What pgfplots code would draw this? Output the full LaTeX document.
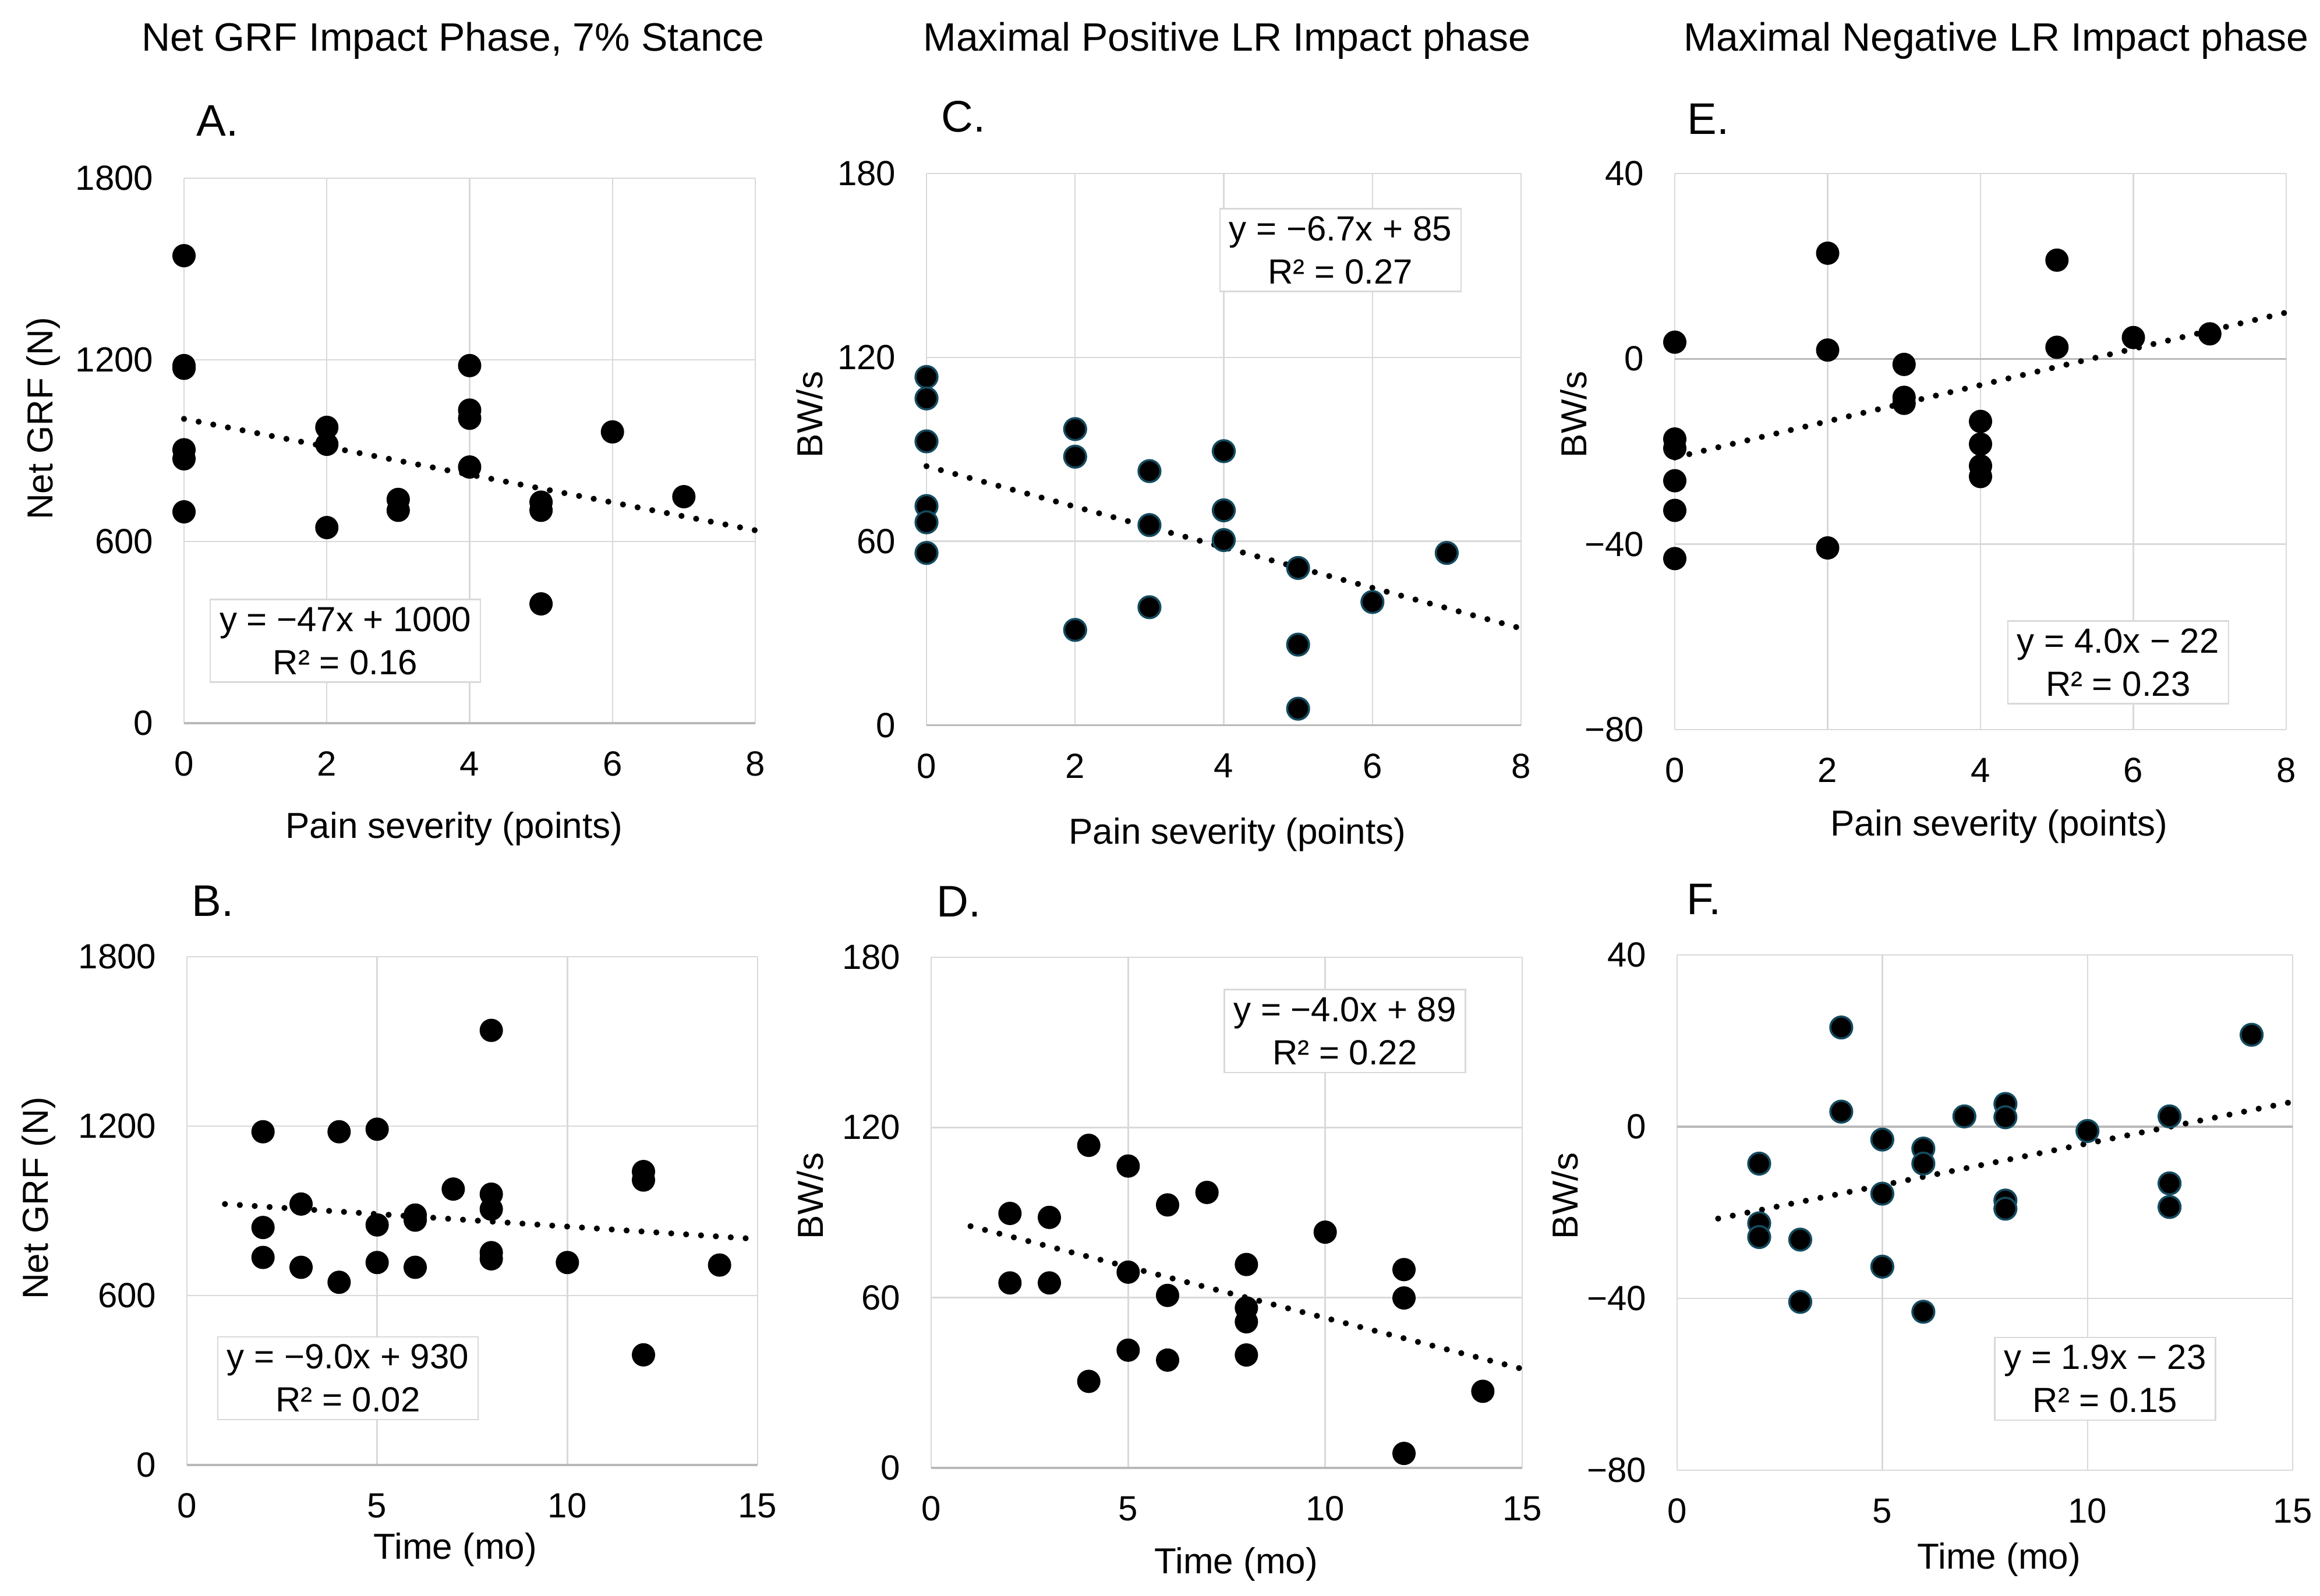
\documentclass[border=0pt]{standalone}
\usepackage{fontspec}
\setmainfont{Liberation Sans}
\usepackage{pgfplots}
\pgfplotsset{compat=1.18}
\definecolor{gridgray}{RGB}{217,217,217}
\definecolor{axgray}{RGB}{185,185,185}
\definecolor{edgeblue}{RGB}{20,75,95}
\pgfplotsset{
  panel/.style={
    scale only axis, clip=false, anchor=south west,
    axis line style={draw=none},
    grid=major, major grid style={gridgray, line width=0.6pt},
    major tick length=0pt,
    tick label style={font=\fontsize{15}{18}\selectfont, inner sep=0pt},
    xticklabel style={anchor=north, yshift=-12pt},
    yticklabel style={anchor=east, xshift=-13pt},
  },
  painx/.style={xmin=0, xmax=8, xtick={0,2,4,6,8}, xticklabels={0,2,4,6,8}},
  timex/.style={xmin=0, xmax=15, xtick={0,5,10,15}, xticklabels={0,5,10,15}},
  dots/.style={only marks, mark=*, mark size=4.7pt, mark options={fill=black, draw=black, line width=0.6pt}},
  dotsb/.style={only marks, mark=*, mark size=4.7pt, mark options={fill=black, draw=edgeblue, line width=0.9pt}},
  trend/.style={no marks, black, line width=2.6pt, line cap=round, dash pattern=on 0pt off 6.4pt},
  zline/.style={no marks, axgray, line width=0.8pt},
}
\tikzset{eqbox/.style={draw=gridgray, fill=white, line width=0.6pt, align=center, inner xsep=4pt, inner ysep=3.2pt, font=\fontsize{15}{18.5}\selectfont}}
\newcommand{\ttl}{\fontsize{17}{20}\selectfont}
\newcommand{\lett}{\fontsize{19}{22}\selectfont}
\newcommand{\lab}{\fontsize{15.5}{18}\selectfont}
\begin{document}
\begin{tikzpicture}
\path[use as bounding box] (0,0) rectangle (996pt,685.25pt);

% ---------- A ----------
\begin{axis}[panel, painx, at={(79pt,374.75pt)}, width=245.25pt, height=234pt,
  ymin=0, ymax=1800, ytick={0,600,1200,1800}, yticklabels={0,600,1200,1800}]
\addplot[zline] coordinates {(0,0) (8,0)};
\addplot[trend] coordinates {(0,1005) (8,637)};
\addplot[dots] coordinates {
(0,1544)(0,1181)(0,1172)(0,903)(0,873)(0,698)
(2,977)(2,921)(2,646)
(3,739)(3,703)
(4,1181)(4,1034)(4,1007)(4,846)
(5,730)(5,703)(5,394)
(6,962)(7,748)};
\node[eqbox] at (axis cs:2.26,272) {y = −47x + 1000\\R² = 0.16};
\end{axis}

% ---------- C ----------
\begin{axis}[panel, painx, at={(397.75pt,373.85pt)}, width=255.25pt, height=236.95pt,
  ymin=0, ymax=180, ytick={0,60,120,180}, yticklabels={0,60,120,180}]
\addplot[zline] coordinates {(0,0) (8,0)};
\addplot[trend] coordinates {(0,84.5) (8,31.6)};
\addplot[dotsb] coordinates {
(0,113.6)(0,106.6)(0,92.6)(0,71.5)(0,66.2)(0,56.2)
(2,96.6)(2,87.6)(2,31.1)
(3,82.9)(3,65.3)(3,38.5)
(4,89.4)(4,70.1)(4,60.4)
(5,51.3)(5,26.3)(5,5.4)
(6,40.2)(7,56.2)};
\node[eqbox] at (axis cs:5.57,155) {y = −6.7x + 85\\R² = 0.27};
\end{axis}

% ---------- E ----------
\begin{axis}[panel, painx, at={(719pt,372pt)}, width=262.5pt, height=238.75pt,
  ymin=-80, ymax=40, ytick={-80,-40,0,40}, yticklabels={−80,−40,0,40}]
\addplot[zline] coordinates {(0,0) (8,0)};
\addplot[trend] coordinates {(0,-21.3) (8,10.0)};
\addplot[dots] coordinates {
(0,3.6)(0,-17.3)(0,-19.3)(0,-26.3)(0,-32.7)(0,-43.1)
(2,22.8)(2,1.9)(2,-40.8)
(3,-1.2)(3,-8.3)(3,-9.6)
(4,-13.5)(4,-18.4)(4,-23.1)(4,-25.4)
(5,21.3)(5,2.5)
(6,4.6)(7,5.4)};
\node[eqbox] at (axis cs:5.80,-65.5) {y = 4.0x − 22\\R² = 0.23};
\end{axis}

% ---------- B ----------
\begin{axis}[panel, timex, at={(80.25pt,56.25pt)}, width=245pt, height=218.25pt,
  ymin=0, ymax=1800, ytick={0,600,1200,1800}, yticklabels={0,600,1200,1800}]
\addplot[zline] coordinates {(0,0) (15,0)};
\addplot[trend] coordinates {(1,924) (15,800)};
\addplot[dots] coordinates {
(8,1539)(2,1180)(4,1180)(5,1189)(12,1039)(12,1009)(7,977)(8,959)(8,906)
(3,924)(2,841)(5,850)(6,885)(6,867)(2,735)(3,700)(4,647)(5,717)(6,700)
(8,752)(8,730)(10,717)(14,708)(12,390)};
\node[eqbox] at (axis cs:4.23,307) {y = −9.0x + 930\\R² = 0.02};
\end{axis}

% ---------- D ----------
\begin{axis}[panel, timex, at={(399.75pt,55pt)}, width=253.75pt, height=219.25pt,
  ymin=0, ymax=180, ytick={0,60,120,180}, yticklabels={0,60,120,180}]
\addplot[zline] coordinates {(0,0) (15,0)};
\addplot[trend] coordinates {(1,85.2) (15,34.9)};
\addplot[dots] coordinates {
(4,113.7)(5,106.4)(7,97.1)(6,92.7)(2,89.7)(3,88.3)(10,83.1)(8,71.7)(12,69.9)
(5,69.0)(2,65.2)(3,65.2)(6,60.8)(12,59.9)(8,56.4)(8,51.5)(5,41.5)(6,38.0)
(8,39.8)(4,30.5)(14,27.0)(12,5.1)};
\node[eqbox] at (axis cs:10.5,154) {y = −4.0x + 89\\R² = 0.22};
\end{axis}

% ---------- F ----------
\begin{axis}[panel, timex, at={(720pt,54pt)}, width=264.25pt, height=221.25pt,
  ymin=-80, ymax=40, ytick={-80,-40,0,40}, yticklabels={−80,−40,0,40}]
\addplot[zline] coordinates {(0,0) (15,0)};
\addplot[trend] coordinates {(1,-21.4) (15,5.8)};
\addplot[dotsb] coordinates {
(4,23.1)(4,3.5)(14,21.4)(8,5.3)(8,2.2)(7,2.4)(12,2.4)(12,-13.2)(12,-18.7)
(10,-1.0)(5,-3.0)(5,-15.6)(5,-32.6)(6,-5.1)(6,-8.6)(2,-8.6)(2,-22.5)(2,-25.7)
(3,-26.3)(3,-40.8)(8,-17.2)(8,-19.1)(6,-43.1)};
\node[eqbox] at (axis cs:10.43,-58.7) {y = 1.9x − 23\\R² = 0.15};
\end{axis}

% ---------- titles ----------
\node[anchor=base, inner sep=0pt, font=\ttl] at (194.5pt,663.25pt) {Net GRF Impact Phase, 7\% Stance};
\node[anchor=base, inner sep=0pt, font=\ttl] at (526.75pt,663.25pt) {Maximal Positive LR Impact phase};
\node[anchor=base, inner sep=0pt, font=\ttl] at (857pt,663.25pt) {Maximal Negative LR Impact phase};

% ---------- panel letters ----------
\node[anchor=base west, inner sep=0pt, font=\lett] at (84.25pt,626.75pt) {A.};
\node[anchor=base west, inner sep=0pt, font=\lett] at (404pt,628.5pt) {C.};
\node[anchor=base west, inner sep=0pt, font=\lett] at (724.25pt,627.5pt) {E.};
\node[anchor=base west, inner sep=0pt, font=\lett] at (82.25pt,291.75pt) {B.};
\node[anchor=base west, inner sep=0pt, font=\lett] at (402pt,291.5pt) {D.};
\node[anchor=base west, inner sep=0pt, font=\lett] at (724pt,292.5pt) {F.};

% ---------- x labels ----------
\node[anchor=base, inner sep=0pt, font=\lab] at (195pt,325.25pt) {Pain severity (points)};
\node[anchor=base, inner sep=0pt, font=\lab] at (531.25pt,322.75pt) {Pain severity (points)};
\node[anchor=base, inner sep=0pt, font=\lab] at (858.25pt,326.25pt) {Pain severity (points)};
\node[anchor=base, inner sep=0pt, font=\lab] at (195.5pt,15.75pt) {Time (mo)};
\node[anchor=base, inner sep=0pt, font=\lab] at (530.75pt,9.5pt) {Time (mo)};
\node[anchor=base, inner sep=0pt, font=\lab] at (858.25pt,11.5pt) {Time (mo)};

% ---------- y labels ----------
\node[rotate=90, inner sep=0pt, font=\lab] at (18.5pt,505.5pt) {Net GRF (N)};
\node[rotate=90, inner sep=0pt, font=\lab] at (16.5pt,170.75pt) {Net GRF (N)};
\node[rotate=90, inner sep=0pt, font=\lab] at (347.5pt,507.25pt) {BW/s};
\node[rotate=90, inner sep=0pt, font=\lab] at (347.75pt,171.75pt) {BW/s};
\node[rotate=90, inner sep=0pt, font=\lab] at (675.5pt,507.25pt) {BW/s};
\node[rotate=90, inner sep=0pt, font=\lab] at (671.75pt,171.75pt) {BW/s};
\end{tikzpicture}
\end{document}
